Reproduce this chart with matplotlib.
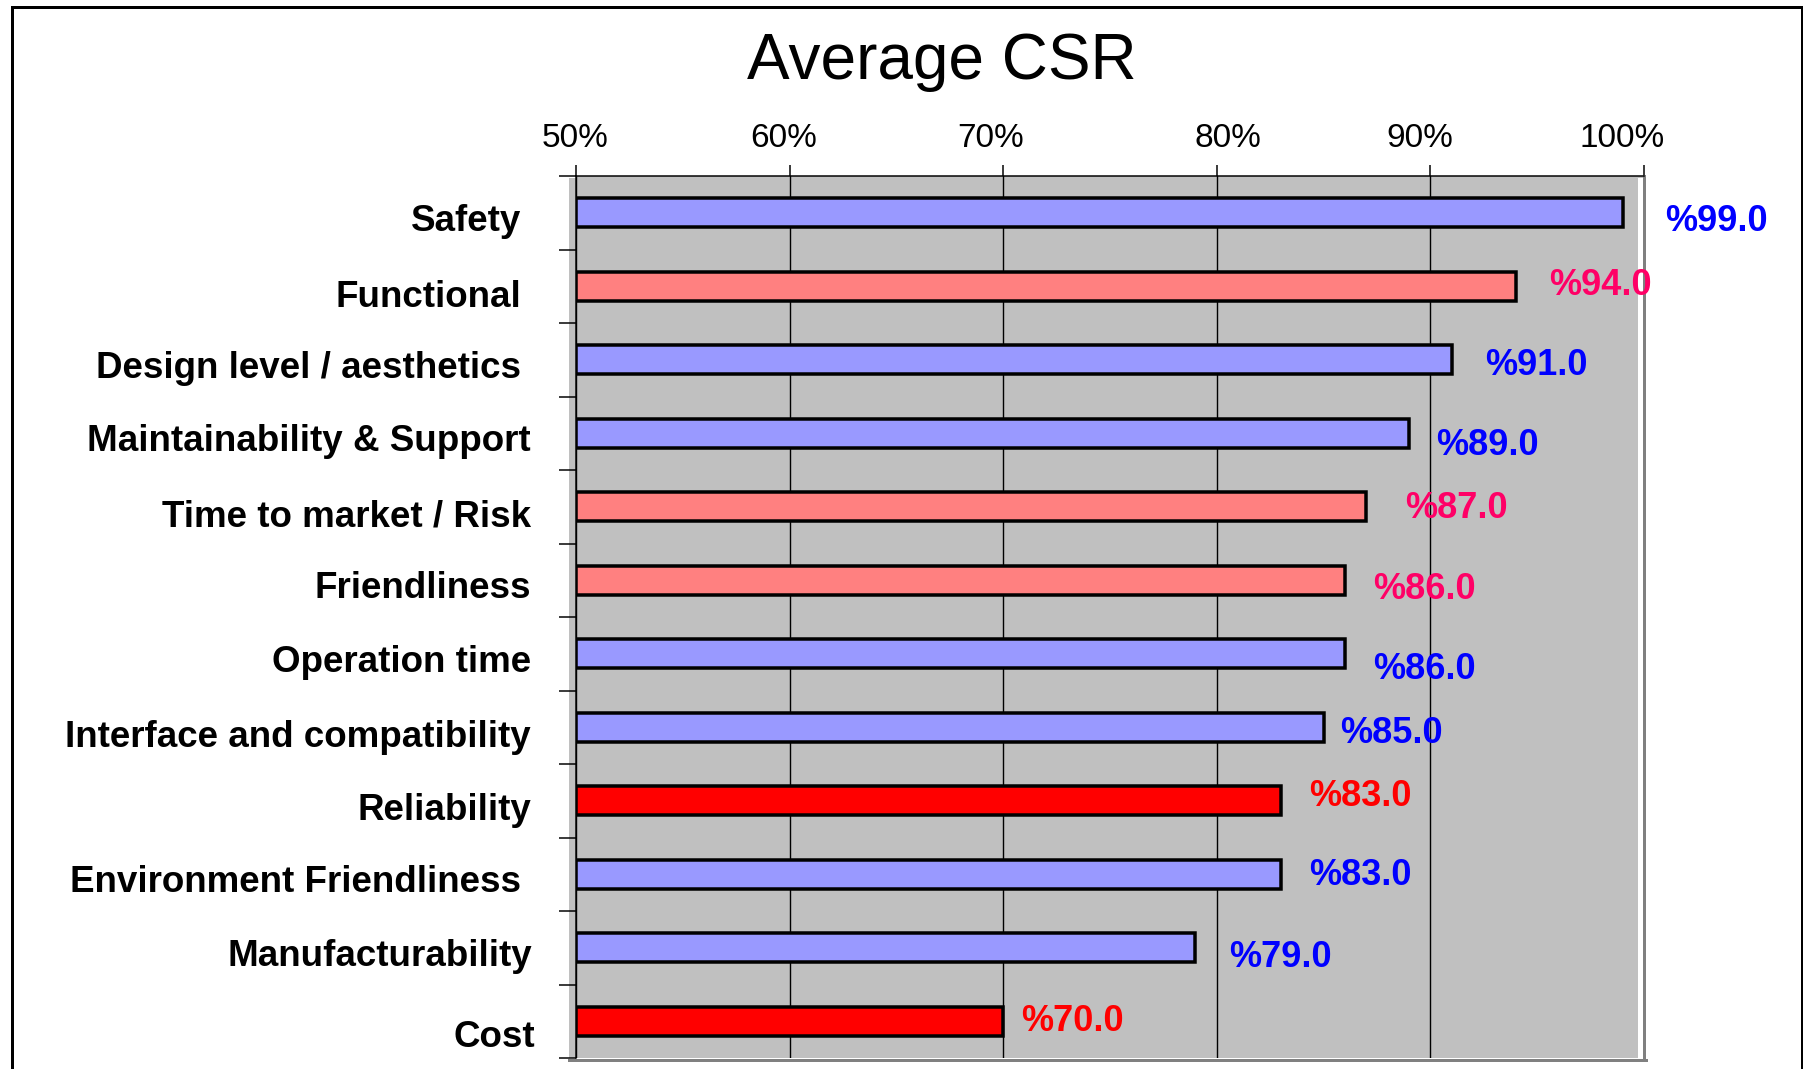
import matplotlib
matplotlib.use("Agg")
import matplotlib.pyplot as plt
from matplotlib.patches import Rectangle
from matplotlib.lines import Line2D

# ---- data ----
categories = [
    "Safety", "Functional", "Design level / aesthetics", "Maintainability & Support",
    "Time to market / Risk", "Friendliness", "Operation time",
    "Interface and compatibility", "Reliability", "Environment Friendliness",
    "Manufacturability", "Cost",
]
values = [99.0, 94.0, 91.0, 89.0, 87.0, 86.0, 86.0, 85.0, 83.0, 83.0, 79.0, 70.0]
groups = ["b", "p", "b", "b", "p", "p", "b", "b", "r", "b", "b", "r"]
x_ticks = [50, 60, 70, 80, 90, 100]
x_tick_labels = ["50%", "60%", "70%", "80%", "90%", "100%"]

# ---- styling ----
bar_fill = {"b": "#9999FF", "p": "#FF8080", "r": "#FF0000"}
label_ink = {"b": "#0000FF", "p": "#FF0066", "r": "#FF0000"}

# per-label placement tweaks (pixels)
value_dx = [42, 33, 33, 27, 39, 28, 28, 17, 28, 28, 34, 18]
value_dy = [5, -4, 2, 9, -2, 6, 12, 3, -8, -2, 6, -3]
cat_gap = [55, 55, 55, 45, 45, 45, 45, 45, 45, 55, 44, 41]
cat_dy = [5, 8, 5, 5, 7, 5, 5, 7, 6, 5, 5, 13]
tick_dx = [-1, -6, -13, 11, -11, -22]

W, H = 1803, 1069
DPI = 100
PT = 72.0 / DPI  # points per pixel


def fx(x):
    return x / W


def fy(y):
    return 1 - y / H


FONT = "Liberation Sans"
plt.rcParams["font.family"] = [FONT, "DejaVu Sans"]

fig = plt.figure(figsize=(W / DPI, H / DPI), dpi=DPI)
fig.patch.set_facecolor("white")

L, R, T, B = 576, 1644, 176, 1058
ax = fig.add_axes([fx(L), fy(B), (R - L) / W, (B - T) / H])
ax.set_facecolor("#C0C0C0")

# wall shading around the plot area
fig.add_artist(Rectangle((fx(569), fy(B)), fx(L) - fx(569), (B - 178) / H,
                         transform=fig.transFigure, facecolor="#C0C0C0",
                         edgecolor="none", zorder=-1))
ax.add_patch(Rectangle((fx(1638), fy(B)), fx(1643) - fx(1638), (B - 178) / H,
                       transform=fig.transFigure, facecolor="white",
                       edgecolor="none", zorder=0.3))
fig.add_artist(Line2D([fx(569), fx(1646)], [fy(1059.5), fy(1059.5)],
                      transform=fig.transFigure, color="#808080",
                      linewidth=3 * PT, zorder=3))

n = len(categories)
ypos = list(range(n))
for i in range(n):
    ax.barh(ypos[i], values[i] - 50, left=50, height=0.4,
            color=bar_fill[groups[i]], edgecolor="black",
            linewidth=3.5 * PT, zorder=2)

ax.set_xlim(50, 100)
ax.set_ylim(n - 0.5, -0.5)

# axes, ticks and grid
ax.xaxis.tick_top()
ax.set_xticks(x_ticks)
ax.set_xticklabels([])
ax.set_yticks([k - 0.5 for k in range(n + 1)])
ax.set_yticklabels([])
ax.tick_params(axis="x", direction="out", length=11 * PT, width=1.5 * PT,
               color="black")
ax.tick_params(axis="y", direction="out", length=17 * PT, width=1.5 * PT,
               color="black")
ax.grid(axis="x", color="black", linewidth=1.4 * PT, zorder=0.5)
ax.set_axisbelow(True)

ax.spines["top"].set_color("black")
ax.spines["top"].set_linewidth(1.5 * PT)
ax.spines["left"].set_color("black")
ax.spines["left"].set_linewidth(1.5 * PT)
ax.spines["right"].set_color("#808080")
ax.spines["right"].set_linewidth(3 * PT)
ax.spines["bottom"].set_visible(False)

# x tick labels on top
for t, lab, dx in zip(x_ticks, x_tick_labels, tick_dx):
    ax.annotate(lab, xy=(t, 1), xycoords=("data", "axes fraction"),
                xytext=(dx * PT, 29 * PT), textcoords="offset points",
                ha="center", va="baseline", fontsize=24, color="black",
                annotation_clip=False)

CAP_HALF = 13.2  # half the cap height of the bold labels, in pixels

# category labels
for i in range(n):
    ax.annotate(categories[i], xy=(50, ypos[i]), xycoords="data",
                xytext=(-cat_gap[i] * PT, -(cat_dy[i] + CAP_HALF) * PT),
                textcoords="offset points", ha="right", va="baseline",
                fontsize=26.5, fontweight="bold", color="black",
                annotation_clip=False)

# value labels
for i in range(n):
    ax.annotate("%" + f"{values[i]:.1f}", xy=(values[i], ypos[i]),
                xycoords="data",
                xytext=(value_dx[i] * PT, -(value_dy[i] + 13) * PT),
                textcoords="offset points", ha="left", va="baseline",
                fontsize=26, fontweight="bold", color=label_ink[groups[i]],
                annotation_clip=False, zorder=4)

# title
fig.text(fx(942), fy(79), "Average CSR", ha="center", va="baseline",
         fontsize=46, color="black")

# outer frame
fig.add_artist(Line2D([fx(11.5), fx(11.5), fx(1802), fx(1802)],
                      [fy(H + 10), fy(6.7), fy(6.7), fy(H + 10)],
                      transform=fig.transFigure, color="black",
                      linewidth=3 * PT, solid_joinstyle="miter", zorder=5))

fig.savefig("out.png", dpi=DPI)
